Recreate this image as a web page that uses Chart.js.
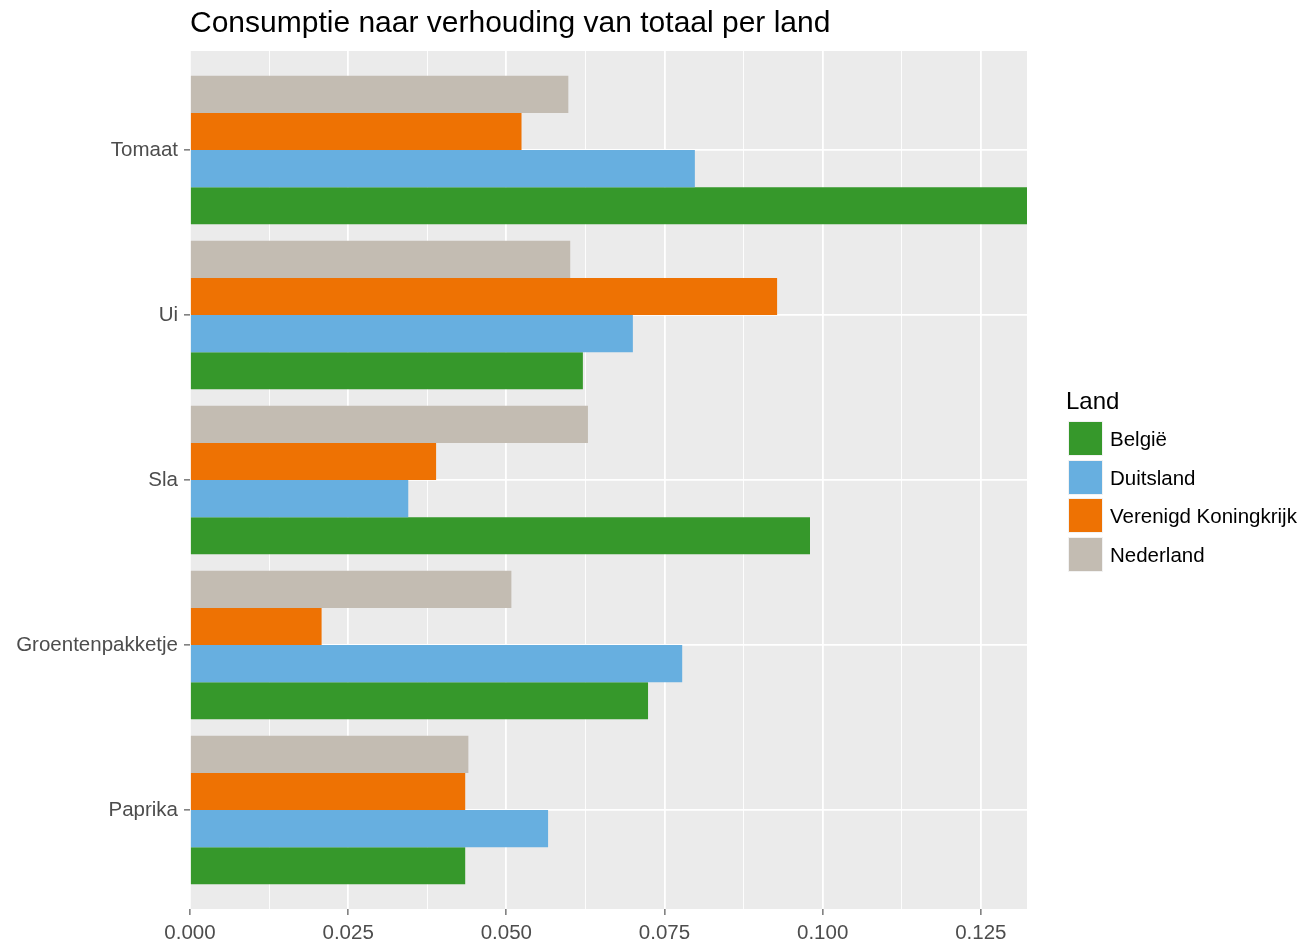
<!DOCTYPE html>
<html><head><meta charset="utf-8">
<script src="https://cdn.jsdelivr.net/npm/chart.js@4"></script>
<style>
html,body{margin:0;padding:0;background:#fff;}
#wrap{position:relative;width:1311px;height:943px;overflow:hidden;}
#c{position:absolute;left:0;top:0;}
.lg{position:absolute;font-family:'Liberation Sans',Arial,sans-serif;color:#000;white-space:nowrap;}
.lgt{font-size:24px;}
.lgbox{position:absolute;width:33px;height:33px;border:1px solid #f2f2f2;}
.lgtxt{font-size:20.5px;line-height:20px;}
</style></head><body>
<div id="wrap"><canvas id="c" width="1311" height="943"></canvas><div id="legend"></div></div>
<script>
const categories = ['Tomaat', 'Ui', 'Sla', 'Groentenpakketje', 'Paprika'];
const countries = ['België', 'Duitsland', 'Verenigd Koningkrijk', 'Nederland'];
const belgie    = [0.1323, 0.0621, 0.0980, 0.0724, 0.0435];
const duitsland = [0.0798, 0.0700, 0.0345, 0.0778, 0.0566];
const vk        = [0.0524, 0.0928, 0.0389, 0.0208, 0.0435];
const nederland = [0.0598, 0.0601, 0.0629, 0.0508, 0.0440];
const xTickLabels = ['0.000', '0.025', '0.050', '0.075', '0.100', '0.125'];
const xTickValues = [0, 0.025, 0.05, 0.075, 0.1, 0.125];
const title = 'Consumptie naar verhouding van totaal per land';
const legendTitle = 'Land';

const colors = {'België':'#36982b','Duitsland':'#67afe0','Verenigd Koningkrijk':'#ee7203','Nederland':'#c3bcb2'};
const seriesByCountry = {'België':belgie,'Duitsland':duitsland,'Verenigd Koningkrijk':vk,'Nederland':nederland};

// datasets ordered top-to-bottom within each group
const drawOrder = ['Nederland','Verenigd Koningkrijk','Duitsland','België'];
const datasets = drawOrder.map(name => ({
  label: name,
  data: seriesByCountry[name].map((v, i) => ({x: v, y: i})),
  backgroundColor: colors[name],
  borderWidth: 0,
  categoryPercentage: 0.9,
  barPercentage: 1.0
}));

const allVals = [].concat(belgie, duitsland, vk, nederland);
const xMax = Math.max.apply(null, allVals);

// major + minor gridline positions
const gridVals = [];
xTickValues.forEach((v, i) => {
  gridVals.push({value: v, major: true});
  if (i < xTickValues.length - 1) gridVals.push({value: (v + xTickValues[i+1]) / 2, major: false});
});
if (xTickValues[xTickValues.length-1] + 0.0125 < xMax) gridVals.push({value: xTickValues[xTickValues.length-1] + 0.0125, major: false});

const FONT = "'Liberation Sans', Arial, sans-serif";

const bgPlugin = {
  id: 'bg',
  beforeDraw(chart) {
    const {ctx, chartArea: a} = chart;
    ctx.save();
    ctx.fillStyle = '#ebebeb';
    ctx.fillRect(a.left, a.top, a.right - a.left, a.bottom - a.top);
    ctx.restore();
  },
  afterDraw(chart) {
    const {ctx, chartArea: a} = chart;
    ctx.save();
    ctx.fillStyle = '#000';
    ctx.font = '30px ' + FONT;
    ctx.textBaseline = 'alphabetic';
    ctx.textAlign = 'left';
    ctx.fillText(title, a.left, 32);
    ctx.restore();
  }
};

new Chart(document.getElementById('c'), {
  type: 'bar',
  data: { datasets },
  plugins: [bgPlugin],
  options: {
    indexAxis: 'y',
    responsive: false,
    animation: false,
    layout: { padding: { left: 0, top: 51, right: 284, bottom: 0 } },
    plugins: { legend: { display: false }, tooltip: { enabled: false }, title: { display: false } },
    scales: {
      x: {
        type: 'linear',
        min: 0,
        max: xMax,
        offset: false,
        border: { display: false },
        afterBuildTicks(scale) { scale.ticks = gridVals.map(g => ({value: g.value, major: g.major})); },
        afterFit(scale) { scale.height = 34; },
        grid: {
          offset: false,
          color: '#ffffff',
          lineWidth: ctx => (ctx.tick && ctx.tick.major) ? 1.8 : 0.9,
          tickColor: ctx => (ctx.tick && ctx.tick.major) ? '#333333' : 'rgba(0,0,0,0)',
          tickLength: 6,
          tickWidth: 1,
          drawTicks: true
        },
        ticks: {
          autoSkip: false,
          maxRotation: 0,
          padding: 6,
          color: '#4d4d4d',
          font: { family: FONT, size: 20.5 },
          callback: function(value) {
            const idx = xTickValues.findIndex(v => Math.abs(v - value) < 1e-9);
            return idx >= 0 ? xTickLabels[idx] : '';
          }
        }
      },
      y: {
        type: 'linear',
        min: -0.6,
        max: categories.length - 1 + 0.6,
        reverse: true,
        offset: false,
        border: { display: false },
        afterBuildTicks(scale) { scale.ticks = categories.map((c, i) => ({value: i})); },
        afterFit(scale) { scale.width = 190; },
        grid: {
          offset: false,
          color: '#ffffff',
          lineWidth: 1.8,
          tickColor: '#333333',
          tickLength: 6,
          tickWidth: 1
        },
        ticks: {
          autoSkip: false,
          padding: 6,
          color: '#4d4d4d',
          font: { family: FONT, size: 20.5 },
          callback: v => categories[v]
        }
      }
    }
  }
});

// legend (ggplot order)
const lg = document.getElementById('legend');
const t = document.createElement('div');
t.className = 'lg lgt'; t.textContent = legendTitle;
t.style.left = '1066px'; t.style.top = '387px';
lg.appendChild(t);
countries.forEach((name, i) => {
  const top = 421 + i * 38.6;
  const b = document.createElement('div');
  b.className = 'lgbox'; b.style.left = '1068px'; b.style.top = top + 'px';
  b.style.background = colors[name];
  lg.appendChild(b);
  const l = document.createElement('div');
  l.className = 'lg lgtxt'; l.textContent = name;
  l.style.left = '1110px'; l.style.top = (top + 8) + 'px';
  lg.appendChild(l);
});
</script>
</body></html>
